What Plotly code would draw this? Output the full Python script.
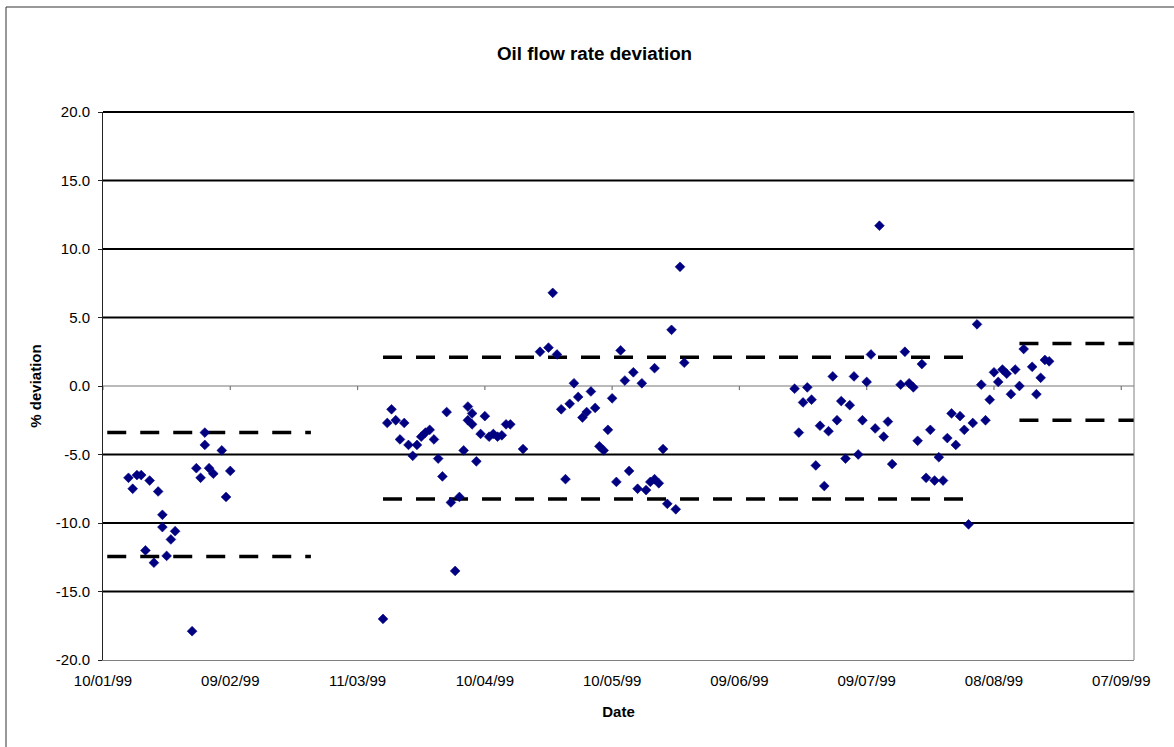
import plotly.graph_objects as go

# Daily oil flow rate deviation readings (%)
dates = [
    "1999-01-16", "1999-01-17", "1999-01-18", "1999-01-19", "1999-01-20",
    "1999-01-21", "1999-01-22", "1999-01-23", "1999-01-24", "1999-01-24",
    "1999-01-25", "1999-01-26", "1999-01-27", "1999-01-31", "1999-02-01",
    "1999-02-02", "1999-02-03", "1999-02-03", "1999-02-04", "1999-02-05",
    "1999-02-07", "1999-02-08", "1999-02-09",
    "1999-03-17", "1999-03-18", "1999-03-19", "1999-03-20", "1999-03-21",
    "1999-03-22", "1999-03-23", "1999-03-24", "1999-03-25", "1999-03-26",
    "1999-03-27", "1999-03-28", "1999-03-29", "1999-03-30", "1999-03-31",
    "1999-04-01", "1999-04-02", "1999-04-03", "1999-04-04", "1999-04-05",
    "1999-04-06", "1999-04-06", "1999-04-07", "1999-04-07", "1999-04-08",
    "1999-04-09", "1999-04-10", "1999-04-11", "1999-04-12", "1999-04-13",
    "1999-04-14", "1999-04-15", "1999-04-16", "1999-04-19", "1999-04-23",
    "1999-04-25", "1999-04-26", "1999-04-27", "1999-04-28", "1999-04-29",
    "1999-04-30", "1999-05-01", "1999-05-02", "1999-05-03", "1999-05-04",
    "1999-05-05", "1999-05-06", "1999-05-07", "1999-05-08", "1999-05-09",
    "1999-05-10", "1999-05-11", "1999-05-12", "1999-05-13", "1999-05-14",
    "1999-05-15", "1999-05-16", "1999-05-17", "1999-05-18", "1999-05-19",
    "1999-05-20", "1999-05-20", "1999-05-21", "1999-05-22", "1999-05-23",
    "1999-05-24", "1999-05-25", "1999-05-26", "1999-05-27",
    "1999-06-22", "1999-06-23", "1999-06-24", "1999-06-25", "1999-06-26",
    "1999-06-27", "1999-06-28", "1999-06-29", "1999-06-30", "1999-07-01",
    "1999-07-02", "1999-07-03", "1999-07-04", "1999-07-05", "1999-07-06",
    "1999-07-07", "1999-07-08", "1999-07-09", "1999-07-10", "1999-07-11",
    "1999-07-12", "1999-07-13", "1999-07-14", "1999-07-15", "1999-07-17",
    "1999-07-18", "1999-07-19", "1999-07-20", "1999-07-21", "1999-07-22",
    "1999-07-23", "1999-07-24", "1999-07-25", "1999-07-26", "1999-07-27",
    "1999-07-28", "1999-07-29", "1999-07-30", "1999-07-31", "1999-08-01",
    "1999-08-02", "1999-08-03", "1999-08-04", "1999-08-05", "1999-08-06",
    "1999-08-07", "1999-08-08", "1999-08-09", "1999-08-10", "1999-08-11",
    "1999-08-12", "1999-08-13", "1999-08-14", "1999-08-15", "1999-08-17",
    "1999-08-18", "1999-08-19", "1999-08-20", "1999-08-21",
]
deviation = [
    -6.7, -7.5, -6.5, -6.5, -12.0,
    -6.9, -12.9, -7.7, -9.4, -10.3,
    -12.4, -11.2, -10.6, -17.9, -6.0,
    -6.7, -3.4, -4.3, -6.0, -6.4,
    -4.7, -8.1, -6.2,
    -17.0, -2.7, -1.7, -2.5, -3.9,
    -2.7, -4.3, -5.1, -4.3, -3.7,
    -3.4, -3.2, -3.9, -5.3, -6.6,
    -1.9, -8.5, -13.5, -8.1, -4.7,
    -1.5, -2.5, -2.0, -2.8, -5.5,
    -3.5, -2.2, -3.7, -3.5, -3.7,
    -3.6, -2.8, -2.8, -4.6, 2.5,
    2.8, 6.8, 2.3, -1.7, -6.8,
    -1.3, 0.2, -0.8, -2.3, -1.9,
    -0.4, -1.6, -4.4, -4.7, -3.2,
    -0.9, -7.0, 2.6, 0.4, -6.2,
    1.0, -7.5, 0.2, -7.6, -7.0,
    -6.8, 1.3, -7.1, -4.6, -8.6,
    4.1, -9.0, 8.7, 1.7,
    -0.2, -3.4, -1.2, -0.1, -1.0,
    -5.8, -2.9, -7.3, -3.3, 0.7,
    -2.5, -1.1, -5.3, -1.4, 0.7,
    -5.0, -2.5, 0.3, 2.3, -3.1,
    11.7, -3.7, -2.6, -5.7, 0.1,
    2.5, 0.2, -0.1, -4.0, 1.6,
    -6.7, -3.2, -6.9, -5.2, -6.9,
    -3.8, -2.0, -4.3, -2.2, -3.2,
    -10.1, -2.7, 4.5, 0.1, -2.5,
    -1.0, 1.0, 0.3, 1.2, 0.9,
    -0.6, 1.2, 0.0, 2.7, 1.4,
    -0.6, 0.6, 1.9, 1.8,
]

# Control limits, one pair per operating period
limit_starts = ["1999-01-11", "1999-03-17", "1999-08-14"]
limit_ends = ["1999-02-28", "1999-08-04", "1999-09-10"]
upper_limits = [-3.4, 2.1, 3.1]
lower_limits = [-12.45, -8.25, -2.5]

# Axis ticks
tick_dates = ["1999-01-10", "1999-02-09", "1999-03-11", "1999-04-10", "1999-05-10",
              "1999-06-09", "1999-07-09", "1999-08-08", "1999-09-07"]
tick_labels = ["10/01/99", "09/02/99", "11/03/99", "10/04/99", "10/05/99",
               "09/06/99", "09/07/99", "08/08/99", "07/09/99"]
y_ticks = [-20, -15, -10, -5, 0, 5, 10, 15, 20]
y_tick_labels = ["-20.0", "-15.0", "-10.0", "-5.0", "0.0", "5.0", "10.0", "15.0", "20.0"]
grid_values = [-15, -10, -5, 5, 10, 15]

x_range = ["1999-01-10", "1999-09-10"]
y_range = [-20, 20]
axis_crossing = 0.0
tick_mark_depth = 0.3

FONT = "Arial, 'Liberation Sans', sans-serif"
AXIS_GREY = "#808080"

fig = go.Figure()

# Date axis line crossing the value axis at zero, with its tick marks
fig.add_trace(go.Scatter(
    x=x_range, y=[axis_crossing, axis_crossing], mode="lines",
    line=dict(color="#777777", width=1.2), showlegend=False, hoverinfo="skip",
))
tick_x, tick_y = [], []
for t in tick_dates:
    tick_x += [t, t, None]
    tick_y += [axis_crossing, axis_crossing - tick_mark_depth, None]
fig.add_trace(go.Scatter(
    x=tick_x, y=tick_y, mode="lines", connectgaps=False,
    line=dict(color="#777777", width=1.2), showlegend=False, hoverinfo="skip",
))

for start, end, up, lo in zip(limit_starts, limit_ends, upper_limits, lower_limits):
    for level in (up, lo):
        fig.add_trace(go.Scatter(
            x=[start, end], y=[level, level], mode="lines",
            line=dict(color="black", width=3.5, dash="19px,14px"),
            showlegend=False, hoverinfo="skip",
        ))

fig.add_trace(go.Scatter(
    x=dates, y=deviation, mode="markers",
    marker=dict(symbol="diamond", size=7.5, color="#000080",
                line=dict(width=0.6, color="#000080")),
    showlegend=False,
))

shapes = []
# Heavy horizontal gridlines
for g in grid_values:
    shapes.append(dict(type="line", layer="below", xref="paper", yref="y",
                       x0=0, x1=1, y0=g, y1=g,
                       line=dict(color="black", width=2)))
# Top gridline sits on the plot-area edge
shapes.append(dict(type="line", layer="above", xref="paper", yref="paper",
                   x0=0, x1=1, y0=1, y1=1, line=dict(color="black", width=2)))
# Right edge of the plot area
shapes.append(dict(type="line", layer="above", xref="paper", yref="paper",
                   x0=1, x1=1, y0=0, y1=1, line=dict(color=AXIS_GREY, width=1)))
# Chart area frame (top and left edges)
shapes.append(dict(type="line", xref="paper", yref="paper",
                   x0=(6 - 103) / 1031, x1=(1174 - 103) / 1031,
                   y0=(660 - 7) / 548, y1=(660 - 7) / 548,
                   line=dict(color="#333333", width=1)))
shapes.append(dict(type="line", xref="paper", yref="paper",
                   x0=(6 - 103) / 1031, x1=(6 - 103) / 1031,
                   y0=(660 - 7) / 548, y1=(660 - 747) / 548,
                   line=dict(color="#333333", width=1)))

fig.update_layout(
    width=1174, height=747,
    margin=dict(l=103, r=40, t=112, b=87),
    paper_bgcolor="white", plot_bgcolor="white",
    font=dict(family=FONT, color="black", size=15),
    title=dict(text="Oil flow rate deviation", x=594.5 / 1174, xref="container",
               xanchor="center", y=1 - 53.5 / 747, yref="container", yanchor="middle",
               font=dict(family=FONT, size=18.8, color="black", weight="bold")),
    xaxis=dict(
        type="date", range=x_range, tickvals=tick_dates, ticktext=tick_labels,
        showgrid=False, zeroline=False, showline=True, linecolor=AXIS_GREY,
        linewidth=1, ticks="", tickfont=dict(size=15), ticklabelstandoff=7,
        title=dict(text="Date", standoff=18,
                   font=dict(family=FONT, size=15, weight="bold")),
    ),
    yaxis=dict(
        range=y_range, tickvals=y_ticks, ticktext=y_tick_labels,
        showgrid=False, zeroline=False,
        showline=True, linecolor="#222222",
        linewidth=1, ticks="outside", ticklen=4, tickcolor="#222222",
        tickfont=dict(size=15), ticklabelstandoff=5,
        title=dict(text="% deviation", standoff=10,
                   font=dict(family=FONT, size=15, weight="bold")),
    ),
    shapes=shapes,
)

fig.write_html("out.html")
